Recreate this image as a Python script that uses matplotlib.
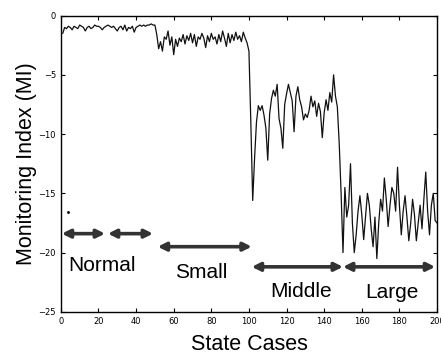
import matplotlib.pyplot as plt
import numpy as np

# monitoring index per state case (1..200)
normal = [-1.5, -1.0, -1.1, -0.9, -1.0, -1.2, -0.9, -1.0, -1.1, -0.8,
          -0.9, -1.0, -1.3, -1.0, -0.9, -1.1, -1.0, -0.8, -0.9, -0.9,
          -1.0, -1.2, -1.0, -0.9, -0.8, -0.9, -1.0, -0.9, -1.1, -1.3,
          -1.0, -0.9, -1.2, -0.8, -1.3, -1.0, -1.1, -0.9, -1.4, -1.0,
          -0.9, -0.8, -0.9, -0.8, -0.9, -0.8, -0.8, -0.7, -0.8, -0.8]
small = [-1.6, -2.8, -2.2, -3.0, -1.8, -2.0, -1.3, -2.5, -1.8, -3.3,
         -2.0, -2.6, -1.9, -2.2, -1.6, -2.4, -1.7, -2.1, -1.5, -2.3,
         -1.6, -2.6, -1.8, -2.0, -1.5, -1.9, -2.7, -1.7, -2.2, -1.5,
         -2.0, -1.8, -2.4, -1.6, -2.2, -1.3, -1.9, -2.6, -1.5, -2.3,
         -1.6, -2.1, -1.4, -2.0, -1.7, -2.2, -1.4, -1.9, -2.3, -3.0]
middle = [-9.0, -15.6, -12.0, -9.0, -7.6, -8.0, -7.6, -8.4, -9.5, -12.2,
          -8.3, -7.0, -6.3, -6.8, -5.8, -8.7, -9.5, -11.2, -7.5, -6.6,
          -5.8, -6.5, -7.2, -9.8, -6.8, -6.0, -7.1, -7.7, -8.8, -8.3,
          -8.6, -8.0, -6.8, -7.7, -7.2, -8.5, -7.4, -8.1, -10.3, -8.2,
          -7.1, -8.0, -6.5, -7.3, -5.0, -6.8, -7.7, -10.8, -15.0, -20.0]
large = [-14.5, -17.0, -16.0, -12.5, -17.5, -20.0, -18.5, -16.5, -15.2, -16.8,
         -18.9, -17.0, -15.0, -16.0, -18.0, -19.5, -17.0, -20.5, -17.5, -15.5,
         -16.5, -13.7, -15.5, -17.8, -16.0, -14.5, -15.0, -16.5, -12.8, -16.0,
         -18.5, -16.5, -15.2, -17.0, -19.0, -17.5, -15.5, -16.8, -19.0, -17.5,
         -16.0, -18.0, -15.5, -13.2, -16.5, -18.5, -16.0, -15.0, -17.3, -17.5]

mi = normal + small + middle + large
cases = np.arange(1, len(mi) + 1)

# class ranges: (start, end, y of arrow)
arrows = [(0.5, 23.5, -18.4), (25, 49, -18.4), (51.5, 101.5, -19.5),
          (101.5, 150, -21.2), (150, 199, -21.2)]
labels = ["Normal", "Small", "Middle", "Large"]
label_pos = [(22, -21.1), (74.5, -21.7), (127.7, -23.3), (176, -23.4)]

fig = plt.figure(figsize=(4.41, 3.54), dpi=100)
ax = fig.add_axes([0.138, 0.119, 0.853, 0.837])

ax.plot(cases, mi, color='#111111', linewidth=0.9)
ax.plot([3.7], [-16.6], marker='.', color='black', markersize=2)

for x0, x1, y in arrows:
    ax.annotate('', xy=(x0, y), xytext=(x1, y),
                arrowprops=dict(arrowstyle='<|-|>', color='#333333', lw=2.6,
                                mutation_scale=12, shrinkA=0, shrinkB=0))

for lab, (x, y) in zip(labels, label_pos):
    ax.text(x, y, lab, fontsize=15, family='Liberation Sans', ha='center', va='center')

ax.set_xlim(0, 200)
ax.set_ylim(-25, 0)
ax.set_xticks(np.arange(0, 201, 20))
ax.set_yticks([0, -5, -10, -15, -20, -25])
ax.tick_params(direction='in', top=True, right=True, labelsize=6, length=3)
for s in ax.spines.values():
    s.set_linewidth(1.0)

ax.set_xlabel("State Cases", fontsize=15.5, family='Liberation Sans', labelpad=6)
ax.set_ylabel("Monitoring Index (MI)", fontsize=15.5, family='Liberation Sans', labelpad=1)

fig.savefig("out.png", dpi=100)
